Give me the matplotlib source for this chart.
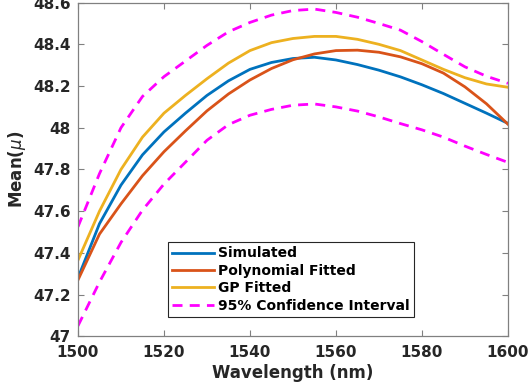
import numpy as np
import matplotlib
matplotlib.use("Agg")
from matplotlib import pyplot as plt
from matplotlib.ticker import FuncFormatter

# wavelength samples (nm)
wavelength = [1500, 1505, 1510, 1515, 1520, 1525, 1530, 1535, 1540, 1545, 1550,
              1555, 1560, 1565, 1570, 1575, 1580, 1585, 1590, 1595, 1600]

# mean values for each curve
simulated = [47.28, 47.54, 47.725, 47.87, 47.98, 48.07, 48.155, 48.225, 48.28, 48.313, 48.332,
             48.338, 48.325, 48.303, 48.276, 48.244, 48.206, 48.164, 48.117, 48.07, 48.021]
poly_fit = [47.27, 47.49, 47.635, 47.77, 47.885, 47.985, 48.081, 48.162, 48.229, 48.284, 48.326,
            48.354, 48.37, 48.372, 48.362, 48.34, 48.307, 48.262, 48.196, 48.115, 48.017]
gp_fit = [47.365, 47.60, 47.80, 47.955, 48.07, 48.155, 48.235, 48.31, 48.37, 48.408, 48.428,
          48.438, 48.438, 48.424, 48.40, 48.37, 48.325, 48.28, 48.24, 48.21, 48.194]
ci_upper = [47.525, 47.78, 48.0, 48.15, 48.245, 48.32, 48.395, 48.46, 48.505, 48.54, 48.562,
            48.569, 48.553, 48.53, 48.50, 48.468, 48.413, 48.352, 48.292, 48.247, 48.213]
ci_lower = [47.05, 47.26, 47.45, 47.605, 47.73, 47.835, 47.94, 48.015, 48.06, 48.088, 48.108,
            48.114, 48.10, 48.08, 48.052, 48.02, 47.99, 47.955, 47.912, 47.872, 47.834]

fig = plt.figure(figsize=(5.28, 3.91), dpi=100)
ax = fig.add_axes([0.1477, 0.1399, 0.8143, 0.8534])

ax.plot(wavelength, simulated, color='#0072BD', lw=2, label='Simulated')
ax.plot(wavelength, poly_fit, color='#D95319', lw=2, label='Polynomial Fitted')
ax.plot(wavelength, gp_fit, color='#EDB120', lw=2, label='GP Fitted')
ax.plot(wavelength, ci_upper, color='#FF00FF', lw=2, dashes=(3.6, 2.6),
        label='95% Confidence Interval')
ax.plot(wavelength, ci_lower, color='#FF00FF', lw=2, dashes=(3.6, 2.6))

ax.set_xlim(1500, 1600)
ax.set_ylim(47, 48.6)
ax.set_xticks(np.arange(1500, 1601, 20))
ax.set_yticks(np.arange(47, 48.61, 0.2))
ax.yaxis.set_major_formatter(FuncFormatter(lambda v, p: '%g' % round(v, 1)))

for s in ax.spines.values():
    s.set_color('#808080')
    s.set_linewidth(0.9)
ax.tick_params(direction='in', length=4, width=0.8, color='#808080',
               top=True, right=True, labelsize=11, labelcolor='#262626')
ax.tick_params(axis='x', pad=6)
ax.tick_params(axis='y', pad=5)
for lab in ax.get_xticklabels() + ax.get_yticklabels():
    lab.set_fontweight('bold')

ax.set_xlabel('Wavelength (nm)', fontsize=12, fontweight='bold', color='#262626', labelpad=3)
ax.set_ylabel(r'Mean($\mu$)', fontsize=12, fontweight='bold', color='#262626', labelpad=4)

leg = ax.legend(loc='lower left', bbox_to_anchor=(0.209, 0.058), borderaxespad=0,
                fancybox=False, framealpha=1, edgecolor='#262626',
                prop={'weight': 'bold', 'size': 10}, handlelength=3.0,
                handletextpad=0.3, borderpad=0.3, labelspacing=0.25)
leg.get_frame().set_linewidth(0.8)

fig.savefig('out.png', dpi=100)
